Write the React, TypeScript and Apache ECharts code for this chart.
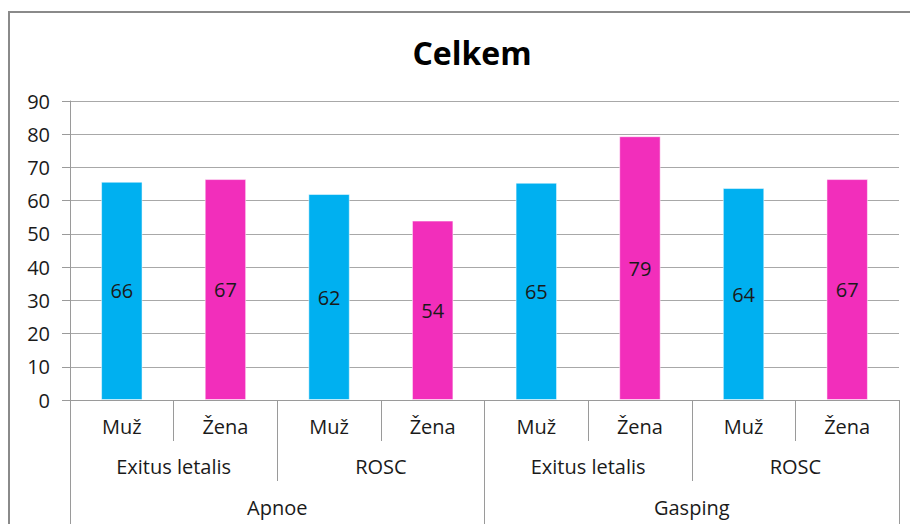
import React, { useEffect, useRef } from "react";
import * as echarts from "echarts";

const sexLabels = ["Muž", "Žena", "Muž", "Žena", "Muž", "Žena", "Muž", "Žena"];
const outcomeLabels = ["Exitus letalis", "ROSC", "Exitus letalis", "ROSC"];
const typeLabels = ["Apnoe", "Gasping"];
const values = [65.7, 66.5, 62.0, 54.0, 65.4, 79.4, 63.8, 66.5];
const barColors = ["#00B0F0", "#F22EBB", "#00B0F0", "#F22EBB", "#00B0F0", "#F22EBB", "#00B0F0", "#F22EBB"];
const titleText = "Celkem";

const FONT = "'Open Sans', 'Liberation Sans', sans-serif";
const AXIS_GRAY = "#9a9a9a";
const TEXT = "#1a1a1a";
const FS = 20;

export default function App() {
  const ref = useRef<HTMLDivElement>(null);
  useEffect(() => {
    if (!ref.current) return;
    const chart = echarts.init(ref.current, undefined, { renderer: "svg" });
    const mkXAxis = (data: string[], tickLen: number, margin: number, showLine: boolean) => ({
      type: "category",
      data,
      position: "bottom",
      boundaryGap: true,
      axisLine: { show: showLine, lineStyle: { color: AXIS_GRAY, width: 1 } },
      axisTick: { show: true, length: tickLen, alignWithLabel: false, lineStyle: { color: AXIS_GRAY, width: 1 } },
      axisLabel: { margin, color: TEXT, fontSize: FS, fontFamily: FONT, interval: 0 },
      splitLine: { show: false },
    });
    chart.setOption({
      animation: false,
      title: {
        text: titleText,
        left: 467,
        top: 31,
        textAlign: "center",
        textStyle: { fontSize: 32, fontWeight: "bold", fontFamily: FONT, color: "#000" },
      },
      graphic: [
        {
          type: "rect",
          shape: { x: 9, y: 12, width: 920, height: 530 },
          style: { fill: "none", stroke: "#8a8a8a", lineWidth: 2 },
          silent: true,
        },
      ],
      grid: { left: 70, right: 11, top: 101, bottom: 124, containLabel: false },
      xAxis: [
        mkXAxis(sexLabels, 41, 16, true),
        mkXAxis(outcomeLabels, 81, 56, false),
        mkXAxis(typeLabels, 130, 97, false),
      ],
      yAxis: {
        type: "value",
        min: 0,
        max: 90,
        interval: 10,
        axisLine: { show: true, lineStyle: { color: AXIS_GRAY, width: 1 } },
        axisTick: { show: true, length: 8, lineStyle: { color: AXIS_GRAY } },
        axisLabel: { margin: 20, color: TEXT, fontSize: FS, fontFamily: FONT },
        splitLine: { show: true, lineStyle: { color: "#a8a8a8", width: 1 } },
      },
      series: [
        {
          type: "bar",
          xAxisIndex: 0,
          barWidth: "40%",
          data: values.map((v, i) => ({ value: v, itemStyle: { color: barColors[i] } })),
          itemStyle: { borderColor: "rgba(255,255,255,0.5)", borderWidth: 1 },
          label: {
            show: true,
            position: "inside",
            color: TEXT,
            fontSize: FS,
            fontFamily: FONT,
            formatter: (p: any) => String(Math.round(p.value)),
          },
        },
      ],
    });
    return () => chart.dispose();
  }, []);
  return (
    <div
      ref={ref}
      style={{ position: "absolute", left: 0, top: 0, width: 910, height: 524 }}
    />
  );
}
